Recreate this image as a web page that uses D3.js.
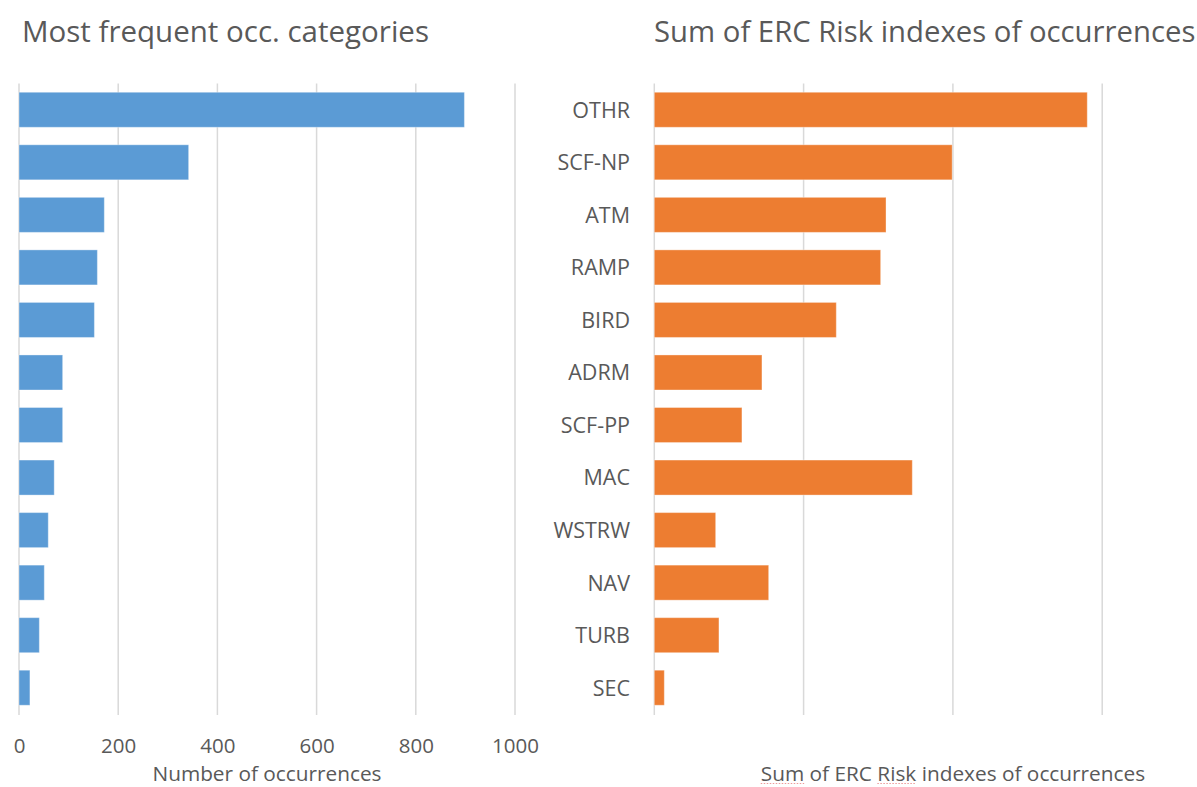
<!DOCTYPE html>
<html>
<head>
<meta charset="utf-8">
<script src="https://cdn.jsdelivr.net/npm/d3@7"></script>
<style>
  html, body { margin: 0; padding: 0; background: #fff; }
  svg { display: block; }
  text { font-family: "Open Sans", "Noto Sans", sans-serif; fill: #595959; }
</style>
</head>
<body>
<svg id="chart" width="1197" height="787"></svg>
<script>
// Occurrence categories (top to bottom)
const categories = ["OTHR", "SCF-NP", "ATM", "RAMP", "BIRD", "ADRM", "SCF-PP", "MAC", "WSTRW", "NAV", "TURB", "SEC"];

// Left panel: number of occurrences per category
const occurrenceCounts = [898, 342, 172, 158, 152, 88, 88, 71, 59, 51, 41, 22];

// Right panel: sum of ERC risk indexes per category
const ercRiskSums = [2900, 1995, 1552, 1516, 1219, 721, 587, 1728, 411, 766, 433, 67];

// Axis ticks
const countTicks = [0, 200, 400, 600, 800, 1000];
const riskTicks = [0, 1000, 2000, 3000, 4000];

const leftTitle = "Most frequent occ. categories";
const rightTitle = "Sum of ERC Risk indexes of occurrences";
const leftAxisTitle = "Number of occurrences";
const rightAxisTitle = "Sum of ERC Risk indexes of occurrences";

const svg = d3.select("#chart");

const y = d3.scaleBand()
  .domain(categories)
  .range([83.5, 714])
  .paddingInner(1 / 3)
  .paddingOuter(1 / 6);

const xLeft = d3.scaleLinear().domain([0, 1000]).range([19, 515]);
const xRight = d3.scaleLinear().domain([0, 4000]).range([654.3, 1251.5]);

function panel(g, x, ticks, values, color, showTickLabels, showCategoryLabels) {
  // vertical gridlines
  g.append("g")
    .selectAll("line")
    .data(ticks)
    .join("line")
    .attr("x1", d => x(d)).attr("x2", d => x(d))
    .attr("y1", 83.5).attr("y2", 715)
    .attr("stroke", "#d9d9d9")
    .attr("stroke-width", 1.5);

  // bars
  g.append("g")
    .selectAll("rect")
    .data(categories.map((c, i) => ({ c, v: values[i] })))
    .join("rect")
    .attr("x", x(0))
    .attr("y", d => y(d.c))
    .attr("width", d => x(d.v) - x(0))
    .attr("height", y.bandwidth())
    .attr("fill", color)
    .attr("stroke", "rgba(255,255,255,0.35)")
    .attr("stroke-width", 1);

  if (showTickLabels) {
    const axis = d3.axisBottom(x).tickValues(ticks).tickSize(0).tickPadding(0).tickFormat(d3.format("d"));
    const ag = g.append("g").attr("transform", "translate(0,753)").call(axis);
    ag.select(".domain").remove();
    ag.selectAll("text")
      .attr("dy", 0)
      .style("font-size", "20.5px")
      .style("font-family", "'Open Sans', 'Noto Sans', sans-serif")
      .attr("fill", "#595959");
  }

  if (showCategoryLabels) {
    const axis = d3.axisLeft(y).tickSize(0).tickPadding(0);
    const ag = g.append("g").attr("transform", "translate(630,1)").call(axis);
    ag.select(".domain").remove();
    ag.selectAll("text")
      .style("font-size", "21.5px")
      .style("font-family", "'Open Sans', 'Noto Sans', sans-serif")
      .attr("fill", "#595959");
  }
}

panel(svg.append("g"), xLeft, countTicks, occurrenceCounts, "#5b9bd5", true, false);
panel(svg.append("g"), xRight, riskTicks, ercRiskSums, "#ed7d31", false, true);

// Chart titles
svg.append("text")
  .attr("x", 22).attr("y", 42)
  .style("font-size", "29.5px")
  .text(leftTitle);

svg.append("text")
  .attr("x", 654).attr("y", 42)
  .style("font-size", "29.3px")
  .text(rightTitle);

// Axis titles
svg.append("text")
  .attr("x", (xLeft.range()[0] + xLeft.range()[1]) / 2)
  .attr("y", 781)
  .attr("text-anchor", "middle")
  .style("font-size", "20.8px")
  .text(leftAxisTitle);

const rightAxisText = svg.append("text")
  .attr("x", (xRight.range()[0] + xRight.range()[1]) / 2)
  .attr("y", 781)
  .attr("text-anchor", "middle")
  .style("font-size", "20.8px")
  .text(rightAxisTitle);

// Proofing marks beneath "Sum" and "Risk" in the axis title
const node = rightAxisText.node();
[["Sum", 0], ["Risk", rightAxisTitle.indexOf("Risk")]].forEach(([word, idx]) => {
  const x0 = node.getStartPositionOfChar(idx).x;
  const x1 = node.getEndPositionOfChar(idx + word.length - 1).x;
  svg.append("line")
    .attr("x1", x0).attr("x2", x1)
    .attr("y1", 783.5).attr("y2", 783.5)
    .attr("stroke", "#ee9a9a")
    .attr("stroke-width", 1)
    .attr("stroke-dasharray", "1.5,1.5");
});
</script>
</body>
</html>
